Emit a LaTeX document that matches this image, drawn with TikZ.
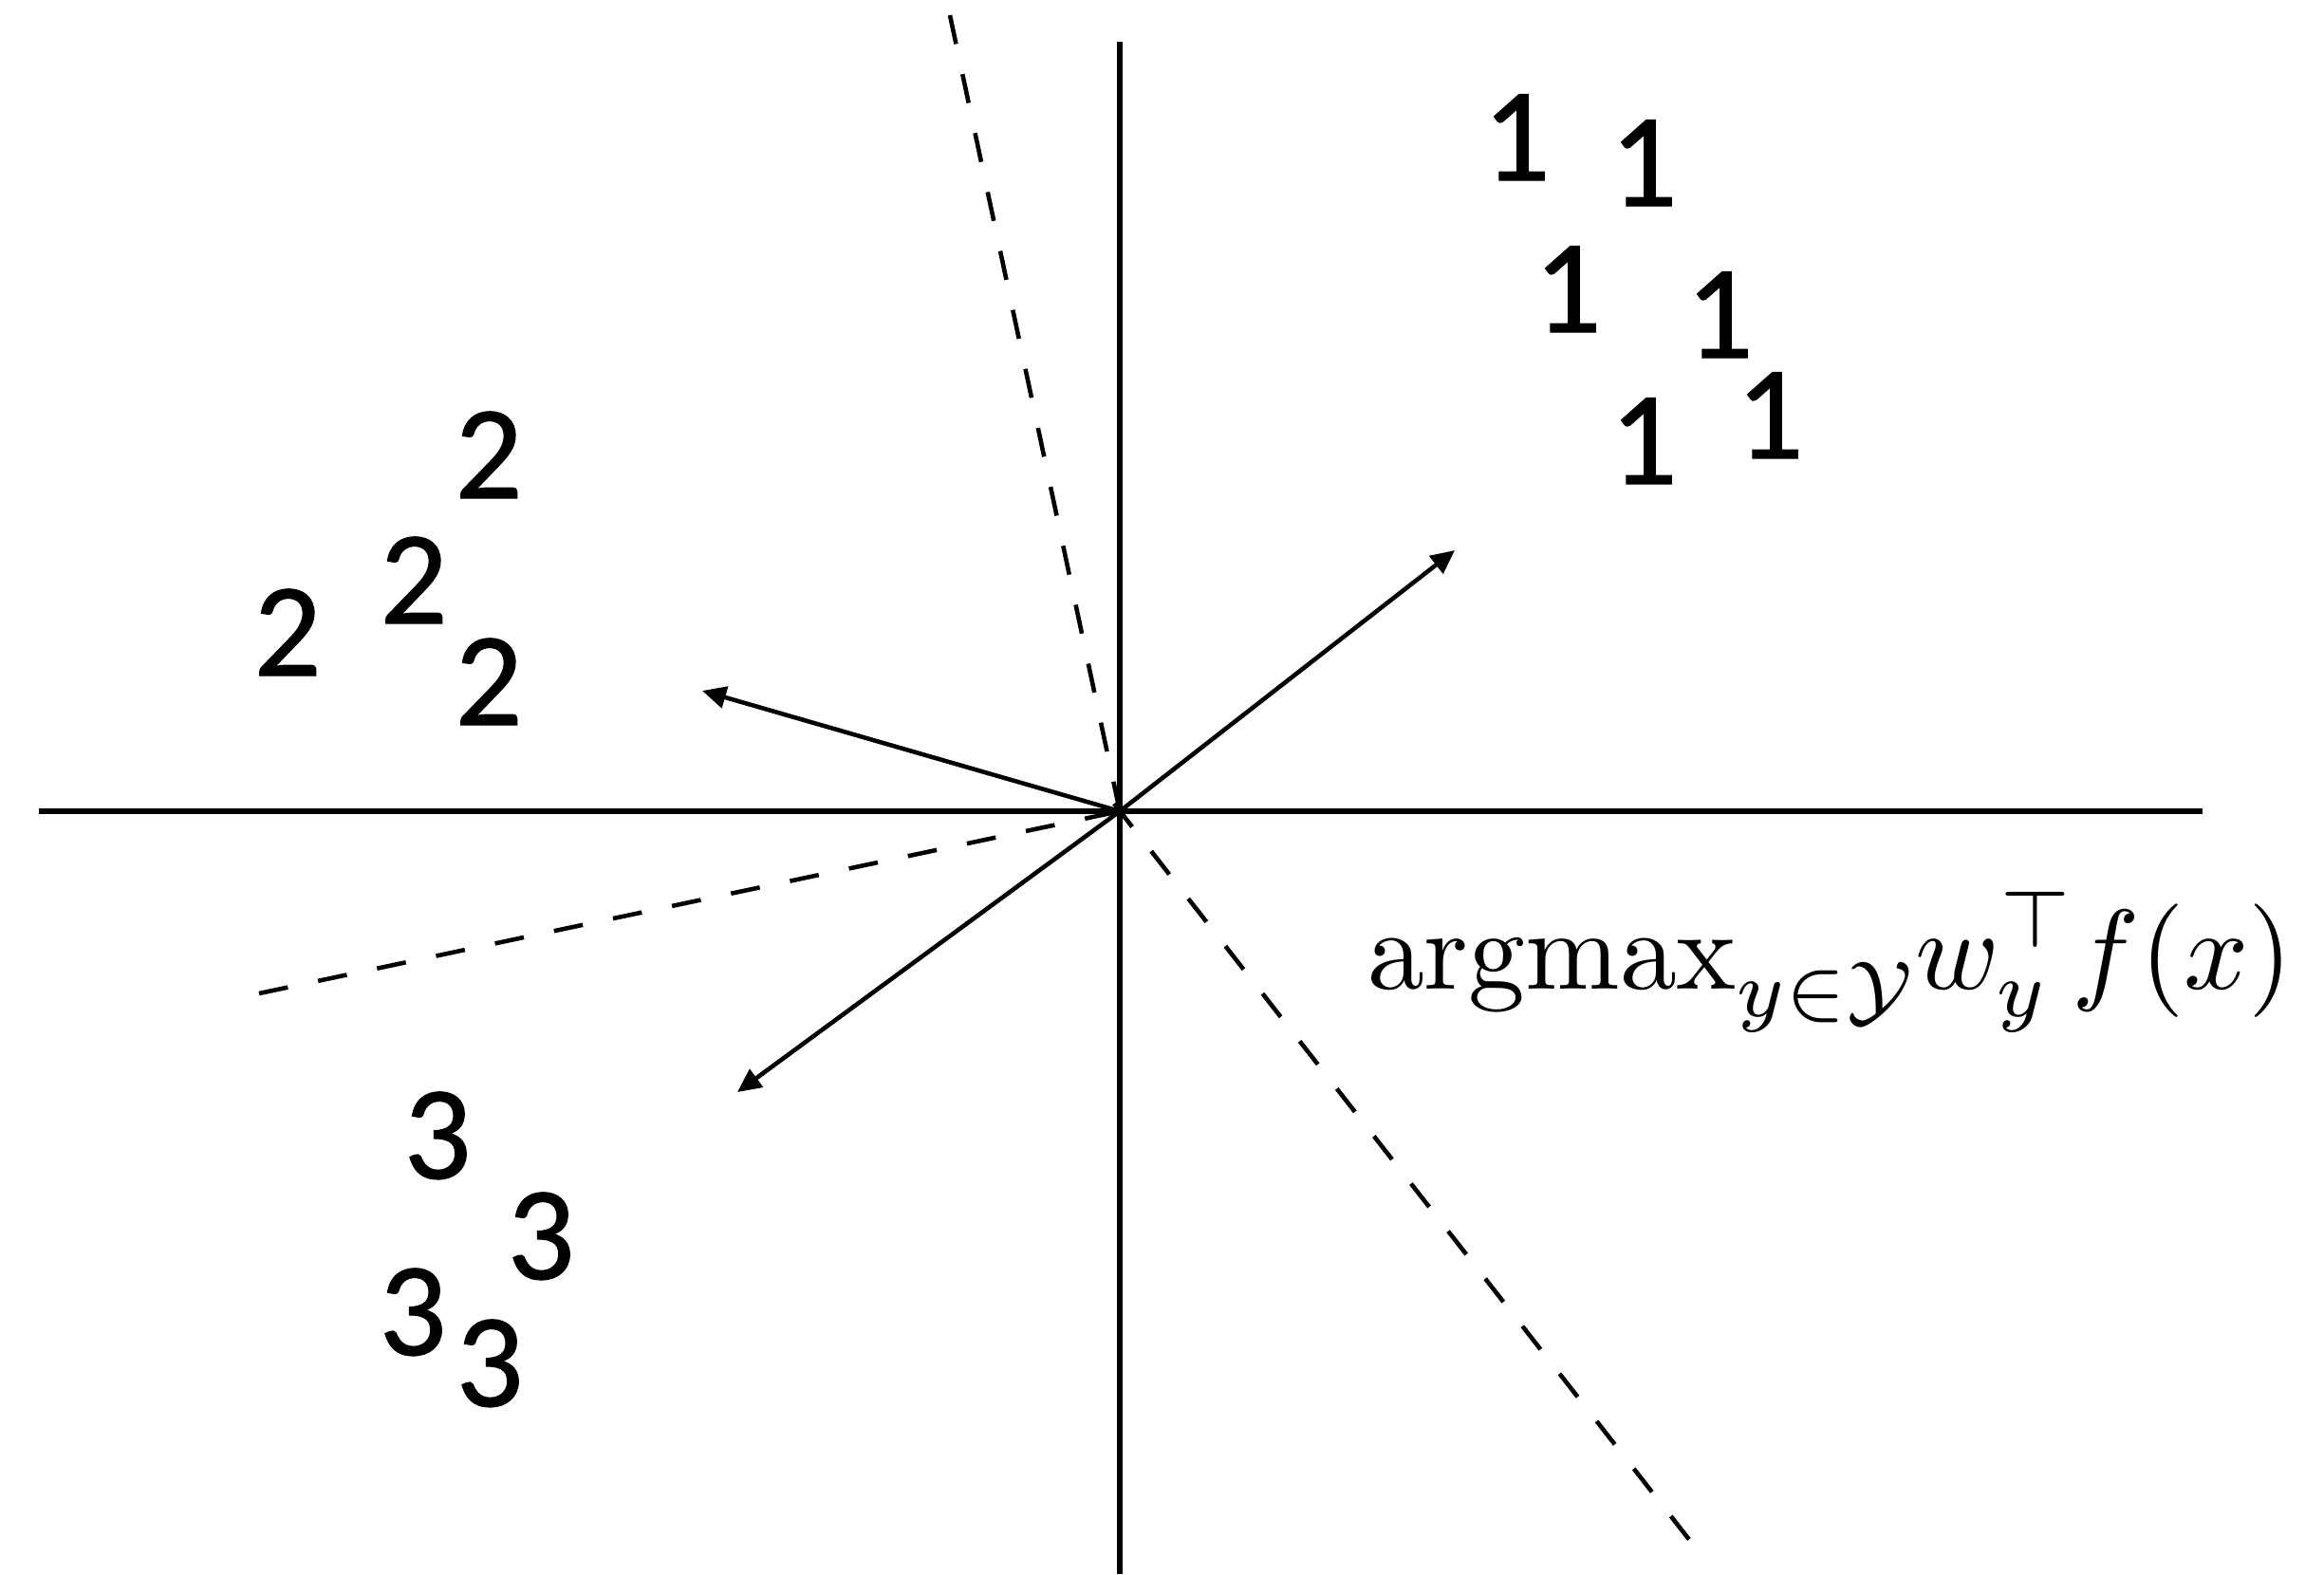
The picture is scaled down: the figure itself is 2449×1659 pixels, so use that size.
\documentclass[tikz,border=0pt]{standalone}
\usepackage{amsmath}
\usepackage[no-math]{fontspec}
\DeclareFontShape{OT1}{cmr}{m}{n}{<-30>cmr7 <30->cmr10}{}
\DeclareFontShape{OML}{cmm}{m}{it}{<-30>cmmi7 <30->cmmi10}{}
\DeclareFontShape{OMS}{cmsy}{m}{n}{<-30>cmsy7 <30->cmsy10}{}
\DeclareFontShape{OMX}{cmex}{m}{n}{<->cmex10}{}
\newfontfamily\digitfont[FakeBold=0.8]{Carlito}
\usetikzlibrary{arrows.meta}
\begin{document}
\begin{tikzpicture}[x=0.01cm,y=-0.01cm,
  axisline/.style={line width=1.5pt},
  sepline/.style={line width=1.3pt,dash pattern=on 0.31cm off 0.325cm},
  wvec/.style={line width=1.3pt,-{Triangle[length=0.25cm,width=0.23cm]}},
  digit/.style={anchor=base,inner sep=0pt,font=\digitfont\fontsize{40}{44}\selectfont},
  lbl/.style={anchor=base west,inner sep=0pt,font=\fontsize{34}{40}\selectfont}]
\useasboundingbox (0,0) rectangle (2449,1659);
% axes
\coordinate (o) at (1180,855);
\coordinate (vtop) at (1180,44);
\coordinate (vbot) at (1180,1659);
\coordinate (hl) at (41,855);
\coordinate (hr) at (2321,855);
\draw[axisline] (vtop) -- (vbot);
\draw[axisline] (hl) -- (hr);
% dashed separators
\coordinate (d1) at (1001,16);
\coordinate (d2) at (273,1047);
\coordinate (d3s) at (1174,847);
\coordinate (d3) at (1785,1629);
\draw[sepline] (d1) -- (o);
\draw[sepline] (d2) -- (o);
\draw[sepline] (d3s) -- (d3);
% weight vectors
\coordinate (t1) at (1533,580);
\coordinate (t2) at (740,728);
\coordinate (t3) at (777,1151);
\draw[wvec] (o) -- (t1);
\draw[wvec] (o) -- (t2);
\draw[wvec] (o) -- (t3);
% class 1
\node[digit] (a1) at (1598,190) {1};
\node[digit] (a2) at (1732,217) {1};
\node[digit] (a3) at (1652,350) {1};
\node[digit] (a4) at (1812,377) {1};
\node[digit] (a5) at (1865,483) {1};
\node[digit] (a6) at (1732,510) {1};
% class 2
\node[digit] (b1) at (515,525) {2};
\node[digit] (b2) at (436,657) {2};
\node[digit] (b3) at (303,712) {2};
\node[digit] (b4) at (515,764) {2};
% class 3
\node[digit] (c1) at (461,1242) {3};
\node[digit] (c2) at (570,1348) {3};
\node[digit] (c3) at (435,1428) {3};
\node[digit] (c4) at (516,1482) {3};
% label
\node[lbl] (lab) at (1440,1042) {$\mathrm{argmax}_{y\in\mathcal{Y}} w_y^\top f(x)$};
\end{tikzpicture}
\end{document}
